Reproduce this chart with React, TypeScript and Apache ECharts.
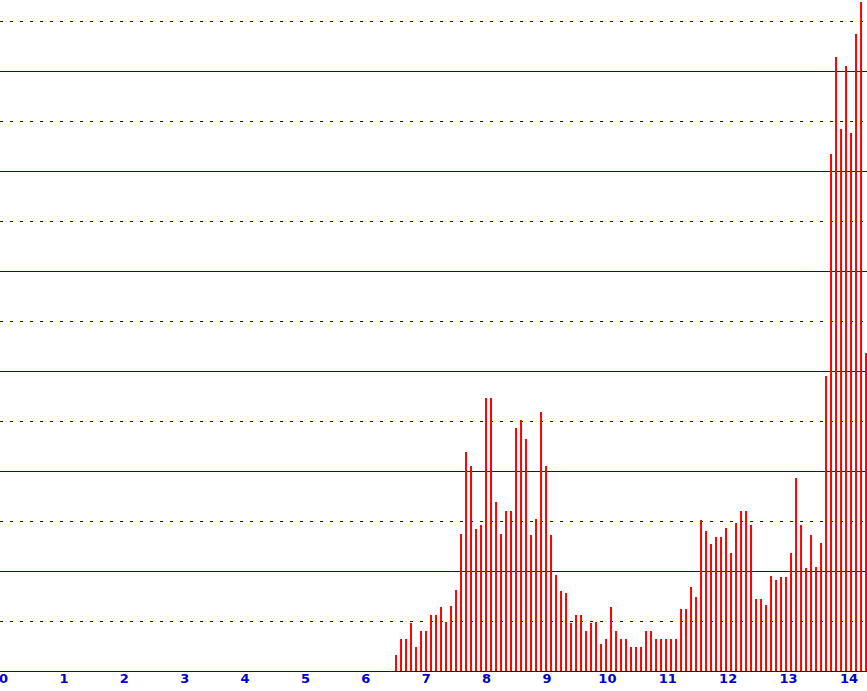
import React, { useEffect, useRef } from "react";
import * as echarts from "echarts";

// x positions of bars: start and spacing
const barStart = 6.5;
const barStep = 0.0828;

// bar heights (one grid step = 0.5)
const barValues = [
  0.16, 0.32, 0.32, 0.48, 0.24, 0.40, 0.40, 0.56, 0.56, 0.64,
  0.49, 0.65, 0.81, 1.37, 2.19, 2.05, 1.42, 1.46, 2.73, 2.73,
  1.69, 1.37, 1.60, 1.60, 2.43, 2.51, 2.32, 1.36, 1.52, 2.59,
  2.05, 1.36, 0.96, 0.80, 0.78, 0.48, 0.56, 0.56, 0.40, 0.48,
  0.49, 0.27, 0.32, 0.64, 0.40, 0.32, 0.32, 0.24, 0.24, 0.24,
  0.40, 0.40, 0.32, 0.32, 0.32, 0.32, 0.32, 0.62, 0.62, 0.84,
  0.74, 1.51, 1.40, 1.27, 1.34, 1.34, 1.43, 1.18, 1.48, 1.60,
  1.60, 1.46, 0.72, 0.72, 0.66, 0.95, 0.91, 0.94, 0.94, 1.18,
  1.93, 1.46, 1.03, 1.36, 1.04, 1.28, 2.95, 5.17, 6.14, 5.42,
  6.05, 5.38, 6.37, 6.69, 3.18,
];

const xTickLabels = [0, 1, 2, 3, 4, 5, 6, 7, 8, 9, 10, 11, 12, 13, 14];

const LINE_BLUE = "#0000CC";

export default function App() {
  const ref = useRef<HTMLDivElement>(null);

  useEffect(() => {
    document.body.style.margin = "0";
    if (!ref.current) return;
    const chart = echarts.init(ref.current, undefined, { renderer: "svg" });
    const data = barValues.map((v, i) => [barStart + i * barStep, v]);
    chart.setOption({
      animation: false,
      backgroundColor: "#FFFFFF",
      grid: {
        left: 0,
        right: 0,
        top: 0,
        bottom: 20,
        containLabel: false,
        outerBoundsMode: "none",
      },
      xAxis: {
        type: "value",
        min: -0.058,
        max: 14.299,
        axisLine: { show: false },
        axisTick: { show: false },
        splitLine: { show: false },
        axisLabel: {
          customValues: xTickLabels,
          color: LINE_BLUE,
          fontFamily: "DejaVu Sans",
          fontWeight: "bold",
          fontSize: 13,
          margin: 1,
          showMinLabel: true,
          showMaxLabel: true,
          hideOverlap: false,
        },
      },
      yAxis: {
        type: "value",
        min: 0,
        max: 6.71,
        interval: 1,
        axisLine: { show: false },
        axisTick: { show: false },
        axisLabel: { show: false },
        splitLine: {
          show: true,
          showMaxLine: false,
          lineStyle: { color: LINE_BLUE, width: 1, type: "solid" },
        },
        minorTick: { show: false, splitNumber: 2 },
        minorSplitLine: {
          show: true,
          lineStyle: { color: LINE_BLUE, width: 1, type: [3, 7], dashOffset: 0 },
        },
      },
      series: [
        {
          type: "bar",
          data,
          barWidth: 2,
          itemStyle: { color: "#FF0000" },
          silent: true,
        },
      ],
    });
    return () => chart.dispose();
  }, []);

  return (
    <div
      ref={ref}
      style={{ position: "absolute", left: 0, top: 0, width: 867, height: 691 }}
    />
  );
}
